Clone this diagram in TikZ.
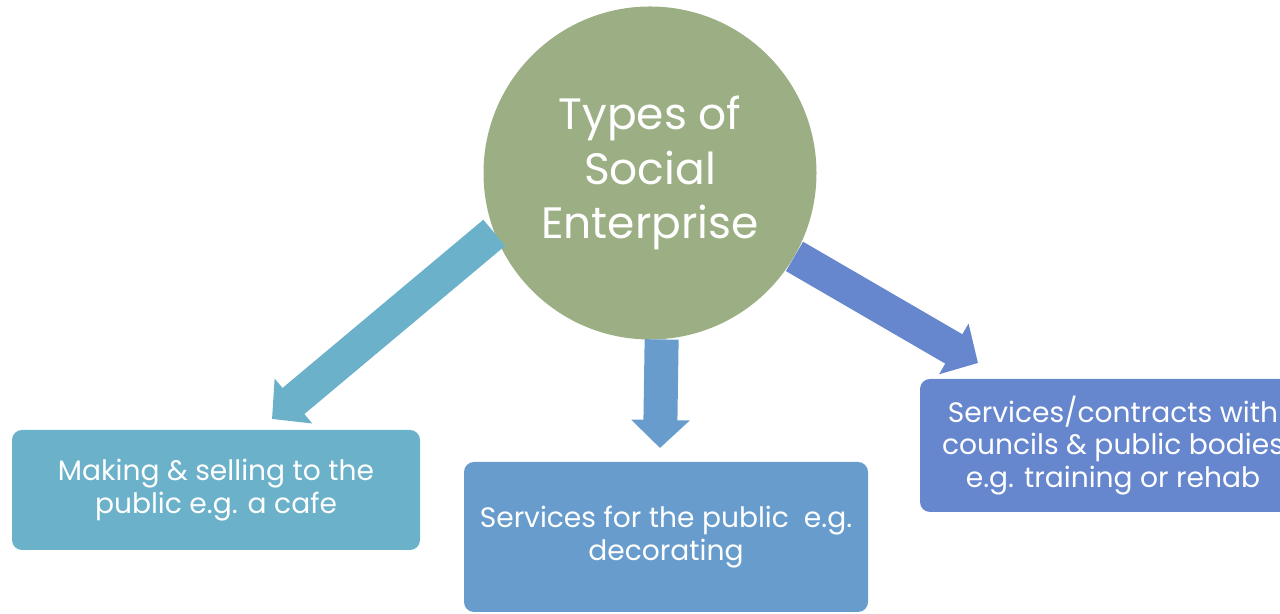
\documentclass[tikz,border=0pt]{standalone}
\usepackage{fontspec}
\setmainfont{Poppins}
\usetikzlibrary{arrows.meta}

\definecolor{sage}{RGB}{156,175,132}
\definecolor{teal1}{RGB}{106,177,201}
\definecolor{blue1}{RGB}{104,156,204}
\definecolor{blue2}{RGB}{102,134,206}

\begin{document}
\begin{tikzpicture}[
  box/.style={rectangle,rounded corners=0.2cm,text=white,align=center,
    inner sep=0pt,font=\fontsize{16}{18.6}\selectfont},
  fat/.style={line width=0.68cm,-{Triangle[width=1.14cm,length=0.56cm]}}]
  \useasboundingbox (0,0) rectangle (25.6,12.28);

  % the three kinds
  \node[box,fill=teal1,minimum width=8.16cm,minimum height=2.4cm] (cafe) at (4.32,2.48)
    {Making \& selling to the\\public e.g. a cafe};
  \node[box,fill=blue1,minimum width=8.08cm,minimum height=3cm] (decor) at (13.32,1.54)
    {Services for the public~ e.g.\\decorating};
  \node[box,fill=blue2,minimum width=7.72cm,minimum height=2.66cm] (councils) at (22.26,3.37)
    {Services/contracts with\\councils \& public bodies\\e.g. training or rehab};

  % centre
  \node[circle,fill=sage,minimum size=6.66cm,text=white,align=center,
    font=\fontsize{25}{31}\selectfont] (types) at (13,8.82) {Types of\\Social\\Enterprise};

  % arrow ends, just short of the boxes
  \coordinate (cafetip) at (5.44,3.9);
  \coordinate (decortip) at (13.2,3.32);
  \coordinate (counciltip) at (19.56,5.02);

  \draw[fat,teal1] (types.201.5) -- (cafetip);
  \draw[fat,blue1] (types.-86.5) -- (decortip);
  \draw[fat,blue2] (types.330.7) -- (counciltip);
\end{tikzpicture}
\end{document}
